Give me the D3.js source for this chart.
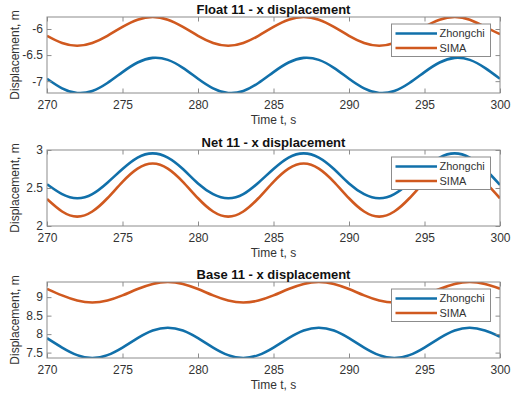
<!DOCTYPE html>
<html>
<head>
<meta charset="utf-8">
<script src="https://cdn.jsdelivr.net/npm/d3@7"></script>
<style>
  body { margin: 0; background: #fff; }
  svg text { font-family: "Liberation Sans", Arial, Helvetica, sans-serif; fill: #333; }
</style>
</head>
<body>
<div id="chart"></div>
<script>
// Time samples (s)
const timeS = [270, 271, 272, 273, 274, 275, 276, 277, 278, 279,
               280, 281, 282, 283, 284, 285, 286, 287, 288, 289,
               290, 291, 292, 293, 294, 295, 296, 297, 298, 299, 300];

// Float 11
const floatZhongchi = [-6.954, -7.138, -7.227, -7.188, -7.035, -6.826, -6.642, -6.553, -6.592, -6.745,
                       -6.954, -7.138, -7.227, -7.188, -7.035, -6.826, -6.642, -6.553, -6.592, -6.745,
                       -6.954, -7.138, -7.227, -7.188, -7.035, -6.826, -6.642, -6.553, -6.592, -6.745, -6.955];
const floatSima = [-6.130, -6.267, -6.320, -6.267, -6.130, -5.960, -5.822, -5.770, -5.822, -5.960,
                   -6.130, -6.267, -6.320, -6.267, -6.130, -5.960, -5.822, -5.770, -5.822, -5.960,
                   -6.130, -6.267, -6.320, -6.267, -6.130, -5.960, -5.822, -5.770, -5.822, -5.960, -6.100];

// Net 11
const netZhongchi = [2.550, 2.420, 2.365, 2.420, 2.570, 2.750, 2.900, 2.956, 2.900, 2.750,
                     2.560, 2.420, 2.365, 2.420, 2.570, 2.750, 2.900, 2.956, 2.900, 2.750,
                     2.560, 2.420, 2.365, 2.420, 2.570, 2.750, 2.900, 2.956, 2.900, 2.750, 2.540];
const netSima = [2.355, 2.191, 2.124, 2.191, 2.365, 2.581, 2.755, 2.822, 2.755, 2.581,
                 2.365, 2.191, 2.124, 2.191, 2.365, 2.581, 2.755, 2.822, 2.755, 2.581,
                 2.365, 2.191, 2.124, 2.191, 2.365, 2.581, 2.755, 2.822, 2.755, 2.581, 2.365];

// Base 11
const baseZhongchi = [7.891, 7.637, 7.432, 7.354, 7.432, 7.637, 7.891, 8.096, 8.174, 8.096,
                      7.891, 7.637, 7.432, 7.354, 7.432, 7.637, 7.891, 8.096, 8.174, 8.096,
                      7.891, 7.637, 7.432, 7.354, 7.432, 7.637, 7.891, 8.096, 8.174, 8.096, 7.930];
const baseSima = [9.225, 9.047, 8.909, 8.856, 8.909, 9.047, 9.219, 9.357, 9.410, 9.357,
                  9.219, 9.047, 8.909, 8.856, 8.909, 9.047, 9.219, 9.357, 9.410, 9.357,
                  9.219, 9.047, 8.909, 8.856, 8.909, 9.047, 9.219, 9.357, 9.410, 9.357, 9.230];

const panelTitles = ["Float 11 - x displacement", "Net 11 - x displacement", "Base 11 - x displacement"];
const seriesNames = ["Zhongchi", "SIMA"];
const seriesColors = ["#1170aa", "#d0591f"];
const xTicks = [270, 275, 280, 285, 290, 295, 300];
const yTicks = [[-7, -6.5, -6], [2, 2.5, 3], [7.5, 8, 8.5, 9]];
const yLimits = [[-7.227, -5.77], [2, 3], [7.354, 9.41]];
const panelData = [[floatZhongchi, floatSima], [netZhongchi, netSima], [baseZhongchi, baseSima]];

const width = 513;
const height = 398;

// pixel boxes for the three axes
const left = 47, right = 500;
const panelTops = [17, 150, 282];
const panelHeight = 76;
const tickLen = 4.5;

// MATLAB style tick text: "-6", "-6.5", "3"
const fmt = d => String(d);

const svg = d3.select("#chart")
    .append("svg")
    .attr("width", width)
    .attr("height", height);

const x = d3.scaleLinear().domain([270, 300]).range([left, right]);

panelData.forEach(function (series, i) {
    const top = panelTops[i];
    const bottom = top + panelHeight;
    const y = d3.scaleLinear().domain(yLimits[i]).range([bottom, top]);

    const g = svg.append("g");

    // clip so the curves stay inside the box
    g.append("clipPath").attr("id", "clip" + i)
        .append("rect")
        .attr("x", left).attr("y", top)
        .attr("width", right - left).attr("height", panelHeight);

    const line = d3.line()
        .x((d, k) => x(timeS[k]))
        .y(d => y(d))
        .curve(d3.curveNatural);

    series.forEach(function (values, s) {
        g.append("path")
            .attr("clip-path", "url(#clip" + i + ")")
            .attr("d", line(values))
            .attr("fill", "none")
            .attr("stroke", seriesColors[s])
            .attr("stroke-width", 2.6);
    });

    // axes: bottom/left with labels, top/right mirrored ticks only
    const xAxis = g.append("g")
        .attr("transform", `translate(0,${bottom})`)
        .call(d3.axisBottom(x).tickValues(xTicks).tickFormat(fmt).tickSizeInner(-tickLen).tickSizeOuter(0).tickPadding(7));
    const xAxisTop = g.append("g")
        .attr("transform", `translate(0,${top})`)
        .call(d3.axisTop(x).tickValues(xTicks).tickSizeInner(-tickLen).tickSizeOuter(0).tickFormat(""));
    const yAxis = g.append("g")
        .attr("transform", `translate(${left},0)`)
        .call(d3.axisLeft(y).tickValues(yTicks[i]).tickFormat(fmt).tickSizeInner(-tickLen).tickSizeOuter(0).tickPadding(4));
    const yAxisRight = g.append("g")
        .attr("transform", `translate(${right},0)`)
        .call(d3.axisRight(y).tickValues(yTicks[i]).tickSizeInner(-tickLen).tickSizeOuter(0).tickFormat(""));

    [xAxis, xAxisTop, yAxis, yAxisRight].forEach(function (a) {
        a.select(".domain").remove();
        a.selectAll("line").attr("stroke", "#8c8c8c").attr("stroke-width", 1);
        a.selectAll("text").style("font-size", "12px").attr("fill", "#333");
    });
    xAxis.selectAll("text").attr("dy", "0.72em");

    // box
    g.append("rect")
        .attr("x", left).attr("y", top)
        .attr("width", right - left).attr("height", panelHeight)
        .attr("fill", "none")
        .attr("stroke", "#8c8c8c")
        .attr("stroke-width", 1);

    // title
    g.append("text")
        .attr("x", (left + right) / 2)
        .attr("y", top - 3.5)
        .attr("text-anchor", "middle")
        .style("font-size", "13px")
        .style("font-weight", "bold")
        .style("fill", "#111")
        .text(panelTitles[i]);

    // x label
    g.append("text")
        .attr("x", (left + right) / 2)
        .attr("y", bottom + 31)
        .attr("text-anchor", "middle")
        .style("font-size", "12px")
        .text("Time t, s");

    // y label
    g.append("text")
        .attr("transform", `translate(18.5,${(top + bottom) / 2}) rotate(-90)`)
        .attr("text-anchor", "middle")
        .style("font-size", "12px")
        .text("Displacement, m");

    // legend
    const lg = g.append("g").attr("transform", `translate(391.5,${top + 7})`);
    lg.append("rect")
        .attr("width", 99).attr("height", 32.5)
        .attr("fill", "#fff")
        .attr("stroke", "#8c8c8c")
        .attr("stroke-width", 1);
    seriesNames.forEach(function (name, s) {
        const ry = 9.5 + s * 14.5;
        lg.append("line")
            .attr("x1", 4).attr("x2", 45.5)
            .attr("y1", ry).attr("y2", ry)
            .attr("stroke", seriesColors[s])
            .attr("stroke-width", 2.6);
        lg.append("text")
            .attr("x", 48)
            .attr("y", ry)
            .attr("dy", "0.35em")
            .style("font-size", "11px")
            .text(name);
    });
});
</script>
</body>
</html>
